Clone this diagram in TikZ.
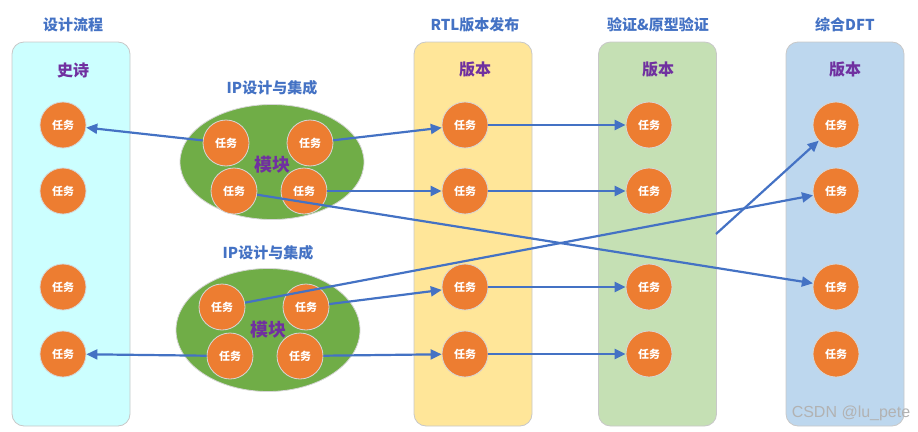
\documentclass[tikz,border=0pt]{standalone}
\usepackage{fontspec}
\setmainfont{Noto Sans CJK SC}
\newfontfamily\wmfont{Liberation Sans}
\usetikzlibrary{arrows.meta,shapes.geometric}
\definecolor{hblue}{HTML}{4472C4}
\definecolor{purp}{HTML}{7030A0}
\definecolor{taskor}{HTML}{ED7D31}
\definecolor{taskbd}{HTML}{D6D6D6}
\definecolor{colbd}{HTML}{C8C8C8}
\definecolor{cyanf}{HTML}{CCFFFF}
\definecolor{yelf}{HTML}{FFE699}
\definecolor{grnf}{HTML}{C5E0B4}
\definecolor{bluf}{HTML}{BDD7EE}
\definecolor{modg}{HTML}{70AD47}
\begin{document}
\begin{tikzpicture}[x=1pt,y=-1pt,
  colbox/.style={draw=colbd, line width=0.8pt, rounded corners=12pt, minimum width=118pt, minimum height=384pt, inner sep=0pt},
  task/.style={circle, fill=taskor, draw=taskbd, line width=0.8pt, minimum size=46pt, inner sep=0pt, text=white, font=\bfseries\fontsize{11}{11}\selectfont},
  hdr/.style={text=hblue, font=\bfseries\fontsize{15}{15}\selectfont},
  subt/.style={text=purp, font=\bfseries\fontsize{16}{16}\selectfont},
  modl/.style={ellipse, fill=modg, draw=taskbd, line width=0.8pt, minimum width=184pt, inner sep=0pt},
  arr/.style={draw=hblue, line width=2.2pt, -{Triangle[length=11pt,width=10pt]}}]
\useasboundingbox (0,0) rectangle (918,431);
% columns
\node[colbox, fill=cyanf] (c1) at (71,234) {};
\node[colbox, fill=yelf] (c2) at (473,234) {};
\node[colbox, fill=grnf] (c3) at (657.5,234) {};
\node[colbox, fill=bluf] (c4) at (845,234) {};
% headers
\node[hdr] (h1) at (73,25) {设计流程};
\node[hdr] (h2) at (475,25) {RTL版本发布};
\node[hdr] (h3) at (658,25) {验证\&原型验证};
\node[hdr] (h4) at (845,25) {综合DFT};
\node[subt] (s1) at (73,70) {史诗};
\node[subt] (s2) at (475,70) {版本};
\node[subt] (s3) at (658,70) {版本};
\node[subt] (s4) at (845,70) {版本};
% column tasks
\foreach \n/\x in {a/63,b/465,c/649,d/836}{
  \node[task] (\n1) at (\x,125) {任务};
  \node[task] (\n2) at (\x,191) {任务};
  \node[task] (\n3) at (\x,287) {任务};
  \node[task] (\n4) at (\x,354) {任务};
}
% modules
\node[modl, minimum height=115pt] (m1) at (272,162) {};
\node[modl, minimum height=123pt] (m2) at (268,330) {};
\node[hdr] (ip1) at (272,88) {IP设计与集成};
\node[hdr] (ip2) at (268,253) {IP设计与集成};
\node[subt, font=\bfseries\fontsize{18}{18}\selectfont] (k1) at (272,165) {模块};
\node[subt, font=\bfseries\fontsize{18}{18}\selectfont] (k2) at (268,330) {模块};
\node[task] (p1) at (226,143) {任务};
\node[task] (p2) at (310,143) {任务};
\node[task] (p3) at (234,191) {任务};
\node[task] (p4) at (304,191) {任务};
\node[task] (q1) at (222,307) {任务};
\node[task] (q2) at (306,307) {任务};
\node[task] (q3) at (230,356) {任务};
\node[task] (q4) at (300,356) {任务};
% arrows
\draw[arr] (p1) -- (a1);
\draw[arr] (p2) -- (b1);
\draw[arr] (p4) -- (b2);
\draw[arr] (p3) -- (d3);
\draw[arr] (q1) -- (d2);
\draw[arr] (q2) -- (b3);
\draw[arr] (q3) -- (a4);
\draw[arr] (q4) -- (b4);
\draw[arr] (b1) -- (c1);
\draw[arr] (b2) -- (c2);
\draw[arr] (b3) -- (c3);
\draw[arr] (b4) -- (c4);
\coordinate (g) at (716,234);
\draw[arr] (g) -- (d1);
% watermark
\node[text=gray!60, font=\wmfont\fontsize{16}{16}\selectfont] (wm) at (851,413) {CSDN @lu\_pete};
\end{tikzpicture}
\end{document}
